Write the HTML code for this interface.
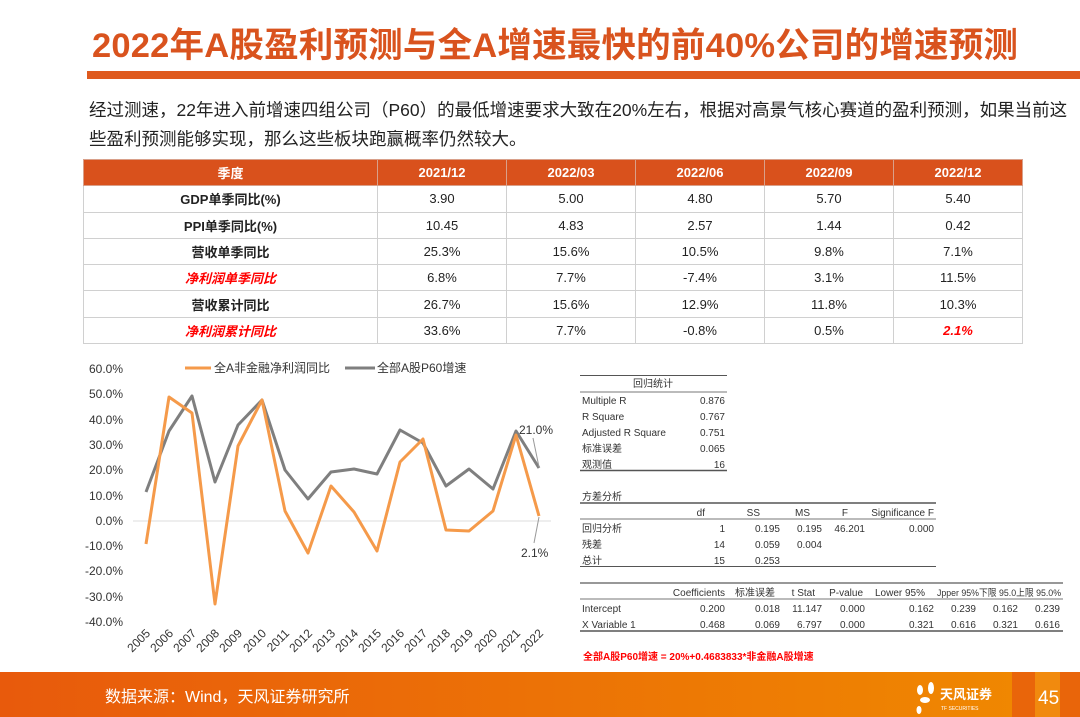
<!DOCTYPE html>
<html><head><meta charset="utf-8"><style>
body{margin:0;width:1080px;height:717px;position:relative;overflow:hidden;background:#fff;font-family:"Liberation Sans","Noto Sans CJK SC",sans-serif;color:#222}
.a{position:absolute;white-space:nowrap}
table.m{position:absolute;left:83px;top:159px;border-collapse:collapse;font-size:13px}
table.m td{border:1px solid #d0d0d0;height:25.3px;text-align:center;padding:0}
table.m tr.h td{background:#d9511c;color:#fff;font-weight:bold;border-color:#d9a08a}
table.m td.l{font-weight:bold}
.r{color:#f00;font-style:italic;font-weight:bold}
</style></head><body>
<div class="a" style="left:92px;top:17px;font-size:34.5px;font-weight:bold;color:#d9531e;letter-spacing:0.2px">2022年A股盈利预测与全A增速最快的前40%公司的增速预测</div>
<div class="a" style="left:87px;top:71px;width:993px;height:8px;background:#df5a1e"></div>
<div class="a" style="left:89px;top:96px;font-size:17.5px;line-height:28.5px;color:#222">经过测速，22年进入前增速四组公司（P60）的最低增速要求大致在20%左右，根据对高景气核心赛道的盈利预测，如果当前这<br>些盈利预测能够实现，那么这些板块跑赢概率仍然较大。</div>
<table class="m">
<tr class="h"><td style="width:293px">季度</td><td style="width:128px">2021/12</td><td style="width:128px">2022/03</td><td style="width:128px">2022/06</td><td style="width:128px">2022/09</td><td style="width:128px">2022/12</td></tr>
<tr><td class="l">GDP单季同比(%)</td><td>3.90</td><td>5.00</td><td>4.80</td><td>5.70</td><td>5.40</td></tr>
<tr><td class="l">PPI单季同比(%)</td><td>10.45</td><td>4.83</td><td>2.57</td><td>1.44</td><td>0.42</td></tr>
<tr><td class="l">营收单季同比</td><td>25.3%</td><td>15.6%</td><td>10.5%</td><td>9.8%</td><td>7.1%</td></tr>
<tr><td class="r">净利润单季同比</td><td>6.8%</td><td>7.7%</td><td>-7.4%</td><td>3.1%</td><td>11.5%</td></tr>
<tr><td class="l">营收累计同比</td><td>26.7%</td><td>15.6%</td><td>12.9%</td><td>11.8%</td><td>10.3%</td></tr>
<tr><td class="r">净利润累计同比</td><td>33.6%</td><td>7.7%</td><td>-0.8%</td><td>0.5%</td><td class="r">2.1%</td></tr>
</table>
<svg class="a" style="left:0;top:0" width="1080" height="717" font-family="Liberation Sans,Noto Sans CJK SC,sans-serif">
<g font-size="12" fill="#333" text-anchor="end">
<text x="123" y="373">60.0%</text><text x="123" y="398">50.0%</text><text x="123" y="424">40.0%</text><text x="123" y="449">30.0%</text><text x="123" y="474">20.0%</text><text x="123" y="500">10.0%</text><text x="123" y="525">0.0%</text><text x="123" y="550">-10.0%</text><text x="123" y="575">-20.0%</text><text x="123" y="601">-30.0%</text><text x="123" y="626">-40.0%</text>
</g>
<line x1="133" y1="521" x2="551" y2="521" stroke="#ddd" stroke-width="1"/>
<g font-size="12" fill="#333" text-anchor="end">
<text transform="translate(151,634) rotate(-45)">2005</text><text transform="translate(174,634) rotate(-45)">2006</text><text transform="translate(197,634) rotate(-45)">2007</text><text transform="translate(220,634) rotate(-45)">2008</text><text transform="translate(243,634) rotate(-45)">2009</text><text transform="translate(267,634) rotate(-45)">2010</text><text transform="translate(290,634) rotate(-45)">2011</text><text transform="translate(313,634) rotate(-45)">2012</text><text transform="translate(336,634) rotate(-45)">2013</text><text transform="translate(359,634) rotate(-45)">2014</text><text transform="translate(382,634) rotate(-45)">2015</text><text transform="translate(405,634) rotate(-45)">2016</text><text transform="translate(428,634) rotate(-45)">2017</text><text transform="translate(451,634) rotate(-45)">2018</text><text transform="translate(474,634) rotate(-45)">2019</text><text transform="translate(498,634) rotate(-45)">2020</text><text transform="translate(521,634) rotate(-45)">2021</text><text transform="translate(544,634) rotate(-45)">2022</text>
</g>
<polyline fill="none" stroke="#7f7f7f" stroke-width="3" stroke-linejoin="round" points="146,492 169,431 192,396 215,482 238,425 262,400 285,470 308,499 331,472 354,469 377,474 400,430 423,443 446,486 469,469 493,489 516,431 539,468"/>
<polyline fill="none" stroke="#f59a4a" stroke-width="3" stroke-linejoin="round" points="146,544 169,397 192,413 215,604 238,446 262,400 285,511 308,553 331,486 354,512 377,551 400,462 423,439 446,530 469,531 493,511 516,435 539,516"/>
<line x1="185" y1="368" x2="211" y2="368" stroke="#f59a4a" stroke-width="3"/>
<text x="214" y="372" font-size="12" fill="#333">全A非金融净利润同比</text>
<line x1="345" y1="368" x2="375" y2="368" stroke="#7f7f7f" stroke-width="3"/>
<text x="377" y="372" font-size="12" fill="#333">全部A股P60增速</text>
<text x="519" y="434" font-size="12" fill="#333">21.0%</text>
<line x1="533" y1="438" x2="539" y2="467" stroke="#999"/>
<text x="521" y="557" font-size="12" fill="#333">2.1%</text>
<line x1="534" y1="543" x2="539" y2="517" stroke="#999"/>
<g font-size="10" fill="#333">
<line x1="580" y1="375.5" x2="727" y2="375.5" stroke="#555"/>
<text x="653" y="387" text-anchor="middle">回归统计</text>
<line x1="580" y1="392" x2="727" y2="392" stroke="#777"/>
<text x="582" y="404">Multiple R</text><text x="725" y="404" text-anchor="end">0.876</text>
<text x="582" y="420">R Square</text><text x="725" y="420" text-anchor="end">0.767</text>
<text x="582" y="436">Adjusted R Square</text><text x="725" y="436" text-anchor="end">0.751</text>
<text x="582" y="452">标准误差</text><text x="725" y="452" text-anchor="end">0.065</text>
<text x="582" y="468">观测值</text><text x="725" y="468" text-anchor="end">16</text>
<line x1="580" y1="470.5" x2="727" y2="470.5" stroke="#555" stroke-width="1.5"/>
<text x="582" y="500">方差分析</text>
<line x1="580" y1="503" x2="936" y2="503" stroke="#555" stroke-width="1.5"/>
<text x="705" y="516" text-anchor="end">df</text><text x="760" y="516" text-anchor="end">SS</text><text x="810" y="516" text-anchor="end">MS</text><text x="848" y="516" text-anchor="end">F</text><text x="934" y="516" text-anchor="end">Significance F</text>
<line x1="580" y1="519" x2="936" y2="519" stroke="#777"/>
<text x="582" y="532">回归分析</text><text x="725" y="532" text-anchor="end">1</text><text x="780" y="532" text-anchor="end">0.195</text><text x="822" y="532" text-anchor="end">0.195</text><text x="865" y="532" text-anchor="end">46.201</text><text x="934" y="532" text-anchor="end">0.000</text>
<text x="582" y="548">残差</text><text x="725" y="548" text-anchor="end">14</text><text x="780" y="548" text-anchor="end">0.059</text><text x="822" y="548" text-anchor="end">0.004</text>
<text x="582" y="564">总计</text><text x="725" y="564" text-anchor="end">15</text><text x="780" y="564" text-anchor="end">0.253</text>
<line x1="580" y1="566.5" x2="936" y2="566.5" stroke="#555"/>
<line x1="580" y1="583" x2="1063" y2="583" stroke="#777" stroke-width="1.5"/>
<text x="725" y="596" text-anchor="end">Coefficients</text><text x="775" y="596" text-anchor="end">标准误差</text><text x="815" y="596" text-anchor="end">t Stat</text><text x="863" y="596" text-anchor="end">P-value</text><text x="925" y="596" text-anchor="end">Lower 95%</text><text x="937" y="596" font-size="9.5" textLength="124" lengthAdjust="spacingAndGlyphs">Jpper 95%下限 95.0上限 95.0%</text>
<line x1="580" y1="599" x2="1063" y2="599" stroke="#777"/>
<text x="582" y="612">Intercept</text><text x="725" y="612" text-anchor="end">0.200</text><text x="780" y="612" text-anchor="end">0.018</text><text x="822" y="612" text-anchor="end">11.147</text><text x="865" y="612" text-anchor="end">0.000</text><text x="934" y="612" text-anchor="end">0.162</text><text x="976" y="612" text-anchor="end">0.239</text><text x="1018" y="612" text-anchor="end">0.162</text><text x="1060" y="612" text-anchor="end">0.239</text>
<text x="582" y="628">X Variable 1</text><text x="725" y="628" text-anchor="end">0.468</text><text x="780" y="628" text-anchor="end">0.069</text><text x="822" y="628" text-anchor="end">6.797</text><text x="865" y="628" text-anchor="end">0.000</text><text x="934" y="628" text-anchor="end">0.321</text><text x="976" y="628" text-anchor="end">0.616</text><text x="1018" y="628" text-anchor="end">0.321</text><text x="1060" y="628" text-anchor="end">0.616</text>
<line x1="580" y1="631" x2="1063" y2="631" stroke="#555" stroke-width="1.5"/>
<text x="583" y="660" fill="#f00" font-weight="bold">全部A股P60增速 = 20%+0.4683833*非金融A股增速</text>
</g>
<defs><linearGradient id="g" x1="0" x2="1"><stop offset="0" stop-color="#e85a0c"/><stop offset="1" stop-color="#f08a00"/></linearGradient></defs>
<rect x="0" y="672" width="1080" height="45" fill="url(#g)"/>
<rect x="1012" y="672" width="68" height="45" fill="#e9650a"/>
<rect x="1035" y="672" width="25" height="45" fill="#f39a10" opacity="0.7"/>
<text x="105" y="702" font-size="16" fill="#fff">数据来源：Wind，天风证券研究所</text>
<g fill="#fff"><ellipse cx="920" cy="690" rx="3" ry="5"/><ellipse cx="931" cy="688" rx="3" ry="6"/><ellipse cx="925" cy="700" rx="5" ry="3"/><ellipse cx="919" cy="710" rx="2.5" ry="4"/></g>
<text x="940" y="699" font-size="13" fill="#fff" font-weight="bold">天风证券</text>
<text x="941" y="710" font-size="5" fill="#fff">TF SECURITIES</text>
<text x="1038" y="704" font-size="19" fill="#fff">45</text>
</svg>
</body></html>
